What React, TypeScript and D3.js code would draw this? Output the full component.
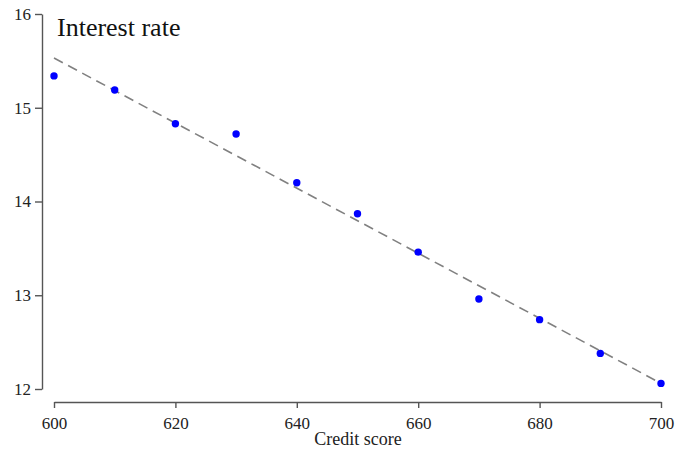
import { useEffect, useRef } from 'react';
import * as d3 from 'd3';

const creditScores = [600, 610, 620, 630, 640, 650, 660, 670, 680, 690, 700];
const interestRates = [15.34, 15.19, 14.83, 14.72, 14.2, 13.87, 13.46, 12.96, 12.74, 12.38, 12.06];
const xTicks = [600, 620, 640, 660, 680, 700];
const yTicks = [12, 13, 14, 15, 16];

const FONT = "'Liberation Serif', 'Times New Roman', serif";

export default function App() {
  const svgRef = useRef<SVGSVGElement>(null);

  useEffect(() => {
    if (!svgRef.current) return;
    const width = 676;
    const height = 452;

    const svg = d3.select(svgRef.current);
    svg.selectAll('*').remove();
    svg.attr('width', width).attr('height', height).style('font-family', FONT);

    const x = d3.scaleLinear().domain([600, 700]).range([54, 661]);
    const y = d3.scaleLinear().domain([12, 16]).range([389, 14]);

    // y axis
    const yAxis = svg
      .append('g')
      .attr('transform', 'translate(42,0)')
      .call(
        d3
          .axisLeft(y)
          .tickValues(yTicks)
          .tickFormat(d3.format('d'))
          .tickSize(7)
          .tickPadding(4)
          .tickSizeOuter(0),
      );
    yAxis.attr('font-family', null).attr('font-size', null);
    yAxis.selectAll('text').attr('fill', '#222').style('font-size', '17px').style('font-family', FONT);

    // x axis
    const xAxis = svg
      .append('g')
      .attr('transform', 'translate(0,402)')
      .call(
        d3
          .axisBottom(x)
          .tickValues(xTicks)
          .tickFormat(d3.format('d'))
          .tickSize(6)
          .tickPadding(9)
          .tickSizeOuter(0),
      );
    xAxis.attr('font-family', null).attr('font-size', null);
    xAxis.selectAll('text').attr('fill', '#222').style('font-size', '17px').style('font-family', FONT);

    svg.selectAll('.domain').attr('stroke', '#555').attr('stroke-width', 1.4);
    svg.selectAll('.tick line').attr('stroke', '#555').attr('stroke-width', 1.4);

    // Regresijska linija
    const mx = d3.mean(creditScores) as number;
    const my = d3.mean(interestRates) as number;
    const sxy = d3.sum(creditScores, (c, i) => (c - mx) * (interestRates[i] - my));
    const sxx = d3.sum(creditScores, (c) => (c - mx) ** 2);
    const slope = sxy / sxx;
    const fit = (v: number) => my + slope * (v - mx);

    svg
      .append('line')
      .attr('x1', x(600))
      .attr('x2', x(700))
      .attr('y1', y(fit(600)))
      .attr('y2', y(fit(700)))
      .attr('stroke', '#808080')
      .attr('stroke-width', 1.6)
      .attr('stroke-dasharray', '10,6');

    // Točke
    svg
      .selectAll('.pt')
      .data(creditScores)
      .enter()
      .append('circle')
      .attr('cx', (d) => x(d))
      .attr('cy', (_, i) => y(interestRates[i]))
      .attr('r', 3.7)
      .attr('fill', '#0000ff');

    svg
      .append('text')
      .attr('x', 57)
      .attr('y', 36)
      .style('font-family', FONT)
      .style('font-size', '26px')
      .attr('fill', '#111')
      .text('Interest rate');

    svg
      .append('text')
      .attr('x', 358)
      .attr('y', 445)
      .attr('text-anchor', 'middle')
      .style('font-family', FONT)
      .style('font-size', '18px')
      .attr('fill', '#222')
      .text('Credit score');
  }, []);

  return (
    <div style={{ position: 'absolute', left: 0, top: 0, background: '#fff' }}>
      <svg ref={svgRef} style={{ display: 'block' }} />
    </div>
  );
}
